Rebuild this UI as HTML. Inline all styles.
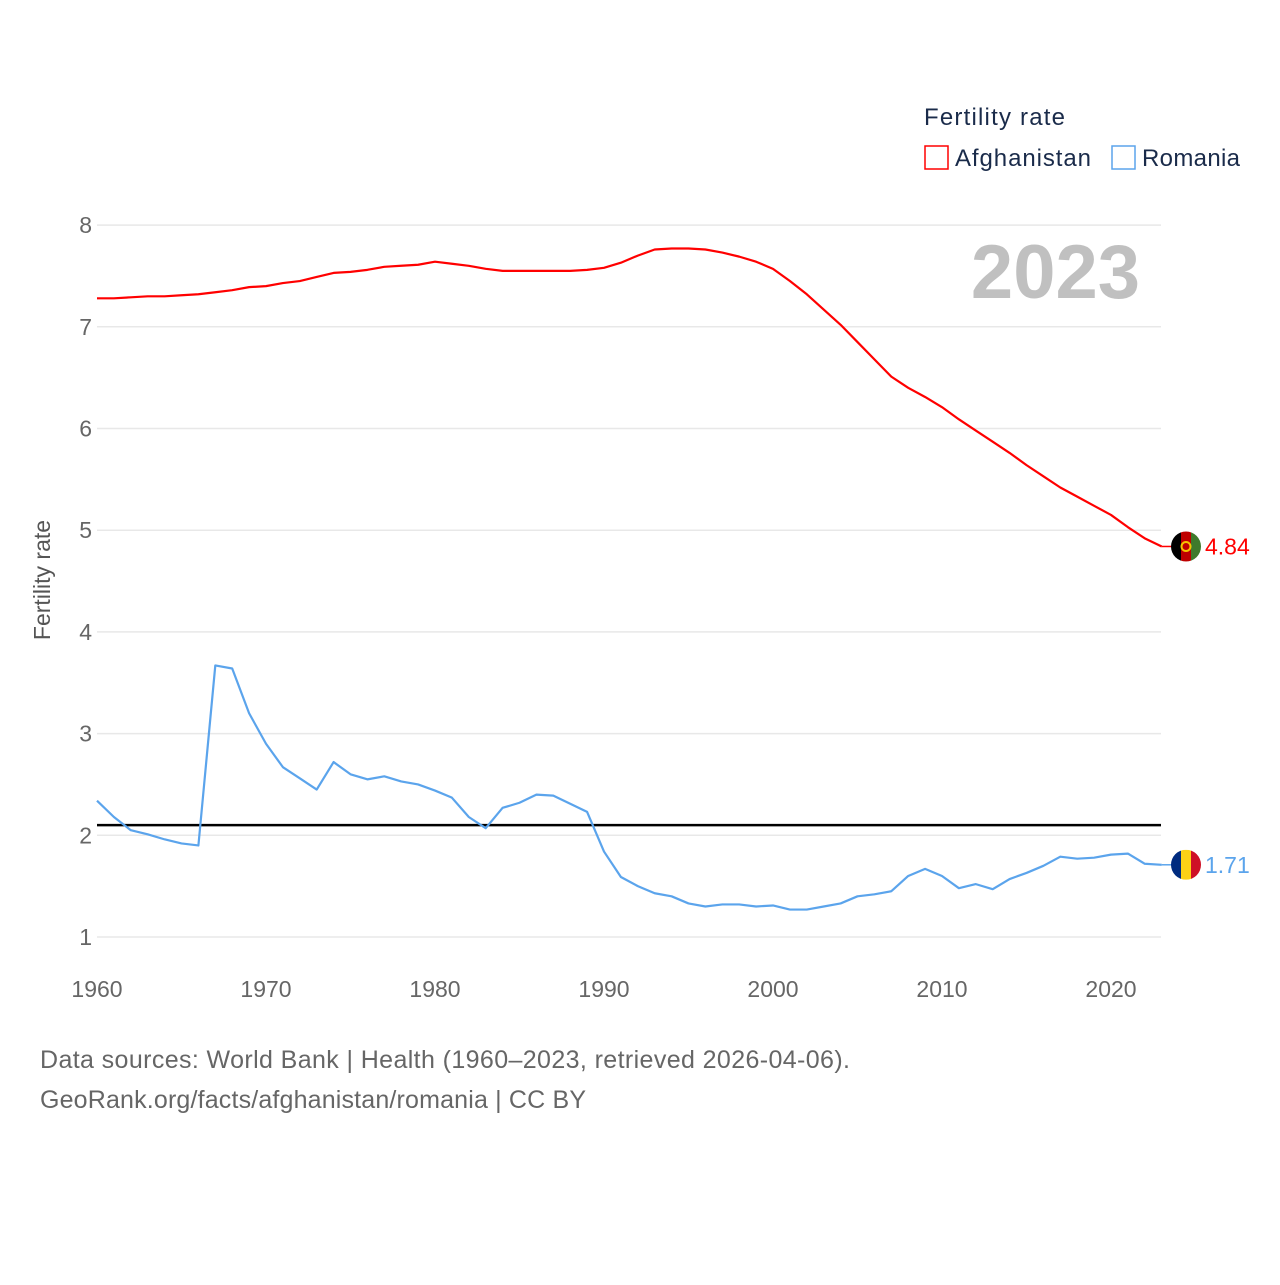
<!DOCTYPE html>
<html><head><meta charset="utf-8"><style>
body{margin:0;background:#fff;font-family:"Liberation Sans",sans-serif;}
svg text{font-family:"Liberation Sans",sans-serif;}
</style></head><body>
<svg id="chart" width="1280" height="1280">
<text x="924" y="125" font-size="24" fill="#1a2b4a" textLength="141">Fertility rate</text>
<g><rect x="925" y="146" width="23" height="23" fill="none" stroke="#f00" stroke-width="1.5"/><text x="955" y="166" font-size="24" fill="#1a2b4a" textLength="136">Afghanistan</text></g>
<g><rect x="1112" y="146" width="23" height="23" fill="none" stroke="#5ba4ec" stroke-width="1.5"/><text x="1142" y="166" font-size="24" fill="#1a2b4a" textLength="98">Romania</text></g>
<text x="1140" y="298" font-size="76" font-weight="bold" fill="#c0c0c0" text-anchor="end">2023</text>
<g id="grid"></g><g id="lines"></g>
<text transform="translate(50,580) rotate(-90)" font-size="23" fill="#555" text-anchor="middle">Fertility rate</text>
<text x="40" y="1068" font-size="25" fill="#666" textLength="810">Data sources: World Bank | Health (1960–2023, retrieved 2026-04-06).</text>
<text x="40" y="1108" font-size="25" fill="#666" textLength="546">GeoRank.org/facts/afghanistan/romania | CC BY</text>
</svg>
<script>
const years=[];for(let y=1960;y<=2023;y++)years.push(y);
const afghanistan=[7.28,7.28,7.29,7.30,7.30,7.31,7.32,7.34,7.36,7.39,7.40,7.43,7.45,7.49,7.53,7.54,7.56,7.59,7.60,7.61,7.64,7.62,7.60,7.57,7.55,7.55,7.55,7.55,7.55,7.56,7.58,7.63,7.70,7.76,7.77,7.77,7.76,7.73,7.69,7.64,7.57,7.45,7.32,7.17,7.02,6.85,6.68,6.51,6.40,6.31,6.21,6.09,5.98,5.87,5.76,5.64,5.53,5.42,5.33,5.24,5.15,5.03,4.92,4.84];
const romania=[2.34,2.18,2.05,2.01,1.96,1.92,1.90,3.67,3.64,3.20,2.90,2.67,2.56,2.45,2.72,2.60,2.55,2.58,2.53,2.50,2.44,2.37,2.18,2.07,2.27,2.32,2.40,2.39,2.31,2.23,1.84,1.59,1.50,1.43,1.40,1.33,1.30,1.32,1.32,1.30,1.31,1.27,1.27,1.30,1.33,1.40,1.42,1.45,1.60,1.67,1.60,1.48,1.52,1.47,1.57,1.63,1.70,1.79,1.77,1.78,1.81,1.82,1.72,1.71];
const yTicks=[1,2,3,4,5,6,7,8];
const xTicks=[1960,1970,1980,1990,2000,2010,2020];
const replacement=2.1;
const X=y=>97+(y-1960)*16.9, Y=v=>937-(v-1)*101.7;
const NS='http://www.w3.org/2000/svg';
function mk(t,a,p){const e=document.createElementNS(NS,t);for(const k in a)e.setAttribute(k,a[k]);p.appendChild(e);return e;}
const grid=document.getElementById('grid'),lines=document.getElementById('lines');
yTicks.forEach(v=>{const l=mk('line',{x1:97,x2:1161,y1:Y(v),y2:Y(v),stroke:'#e8e8e8','stroke-width':1.5},grid);


const t=mk('text',{x:92,y:Y(v)+8,'font-size':23,fill:'#666','text-anchor':'end'},grid);t.textContent=v;

});
xTicks.forEach(v=>{const t=mk('text',{x:X(v),y:997,'font-size':23,fill:'#666','text-anchor':'middle'},grid);t.textContent=v;

});
const rl=mk('line',{x1:97,x2:1161,y1:Y(replacement),y2:Y(replacement),stroke:'#000','stroke-width':2.5},lines);


function series(vals,color,name){
 const p=mk('polyline',{points:vals.map((v,i)=>X(years[i])+','+Y(v)).join(' '),fill:'none',stroke:color,'stroke-width':2.2,'stroke-linejoin':'round'},lines);
 
 
 const last=vals[vals.length-1],ly=Y(last);
 mk('line',{x1:X(2023),x2:1172,y1:ly,y2:ly,stroke:color,'stroke-width':1.5},lines);
 const g=mk('g',{},lines);
 
 
 return {g,ly,last};
}
const a=series(afghanistan,'#ff0000','afghanistan');
const cA=mk('clipPath',{id:'ca'},a.g);mk('circle',{cx:1186,cy:a.ly,r:15},cA);
mk('rect',{x:1171,y:a.ly-15,width:10,height:30,fill:'#000','clip-path':'url(#ca)'},a.g);
mk('rect',{x:1181,y:a.ly-15,width:10,height:30,fill:'#be0000','clip-path':'url(#ca)'},a.g);
mk('rect',{x:1191,y:a.ly-15,width:10,height:30,fill:'#3f7a2c','clip-path':'url(#ca)'},a.g);
mk('circle',{cx:1186,cy:a.ly,r:4.5,fill:'none',stroke:'#f5c400','stroke-width':2},a.g);
const ta=mk('text',{x:1205,y:a.ly+8,'font-size':23,fill:'#ff0000'},lines);ta.textContent=a.last.toFixed(2);


const r=series(romania,'#5ba4ec','romania');
const cR=mk('clipPath',{id:'cr'},r.g);mk('circle',{cx:1186,cy:r.ly,r:15},cR);
mk('rect',{x:1171,y:r.ly-15,width:10,height:30,fill:'#002b7f','clip-path':'url(#cr)'},r.g);
mk('rect',{x:1181,y:r.ly-15,width:10,height:30,fill:'#fcd116','clip-path':'url(#cr)'},r.g);
mk('rect',{x:1191,y:r.ly-15,width:10,height:30,fill:'#ce1126','clip-path':'url(#cr)'},r.g);
const tr=mk('text',{x:1205,y:r.ly+8,'font-size':23,fill:'#5ba4ec'},lines);tr.textContent=r.last.toFixed(2);


</script>
</body></html>
